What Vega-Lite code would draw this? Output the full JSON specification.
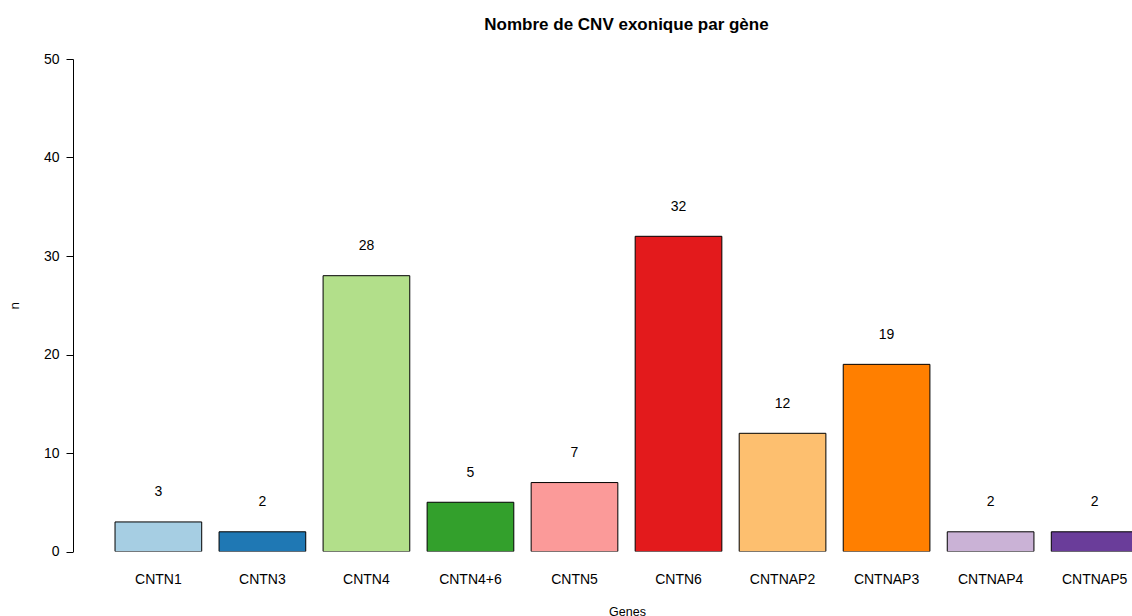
{
  "$schema": "https://vega.github.io/schema/vega-lite/v6.json",
  "autosize": {"type": "none"},
  "width": 1059,
  "height": 492.5,
  "padding": {"left": 73, "top": 59, "right": 0, "bottom": 64.5},
  "background": "white",
  "config": {
    "view": {"stroke": null},
    "font": "Liberation Sans",
    "axis": {"grid": false, "labelColor": "black", "titleColor": "black", "domainColor": "black", "tickColor": "black"}
  },
  "title": {
    "text": "Nombre de CNV exonique par gène",
    "font": "Liberation Sans",
    "fontSize": 17,
    "fontWeight": "bold",
    "color": "black",
    "anchor": "middle",
    "frame": "group",
    "dx": 24,
    "offset": 18
  },
  "data": {
    "values": [
      {"Genes": "CNTN1", "n": 3},
      {"Genes": "CNTN3", "n": 2},
      {"Genes": "CNTN4", "n": 28},
      {"Genes": "CNTN4+6", "n": 5},
      {"Genes": "CNTN5", "n": 7},
      {"Genes": "CNTN6", "n": 32},
      {"Genes": "CNTNAP2", "n": 12},
      {"Genes": "CNTNAP3", "n": 19},
      {"Genes": "CNTNAP4", "n": 2},
      {"Genes": "CNTNAP5", "n": 2}
    ]
  },
  "encoding": {
    "x": {
      "field": "Genes",
      "type": "nominal",
      "sort": null,
      "scale": {"range": [0, 1107], "paddingInner": 0.1667, "paddingOuter": 0.404},
      "axis": {
        "labelAngle": 0,
        "domain": false,
        "ticks": false,
        "tickSize": 0,
        "labelFontSize": 14,
        "labelPadding": 21,
        "title": "Genes",
        "titleFontSize": 12.5,
        "titleFontWeight": "normal",
        "titlePadding": 19,
        "titleX": 554
      }
    },
    "y": {
      "field": "n",
      "type": "quantitative",
      "scale": {"domain": [0, 50], "nice": false, "zero": true},
      "axis": {
        "values": [0, 10, 20, 30, 40, 50],
        "tickSize": 7,
        "labelPadding": 7,
        "labelFontSize": 14,
        "title": "n",
        "titleFontSize": 13.5,
        "titleFontWeight": "normal",
        "titlePadding": 22
      }
    }
  },
  "layer": [
    {
      "mark": {"type": "bar", "stroke": "black", "strokeWidth": 1, "clip": true},
      "encoding": {
        "color": {
          "field": "Genes",
          "type": "nominal",
          "sort": null,
          "legend": null,
          "scale": {"range": ["#A6CEE3", "#1F78B4", "#B2DF8A", "#33A02C", "#FB9A99", "#E31A1C", "#FDBF6F", "#FF7F00", "#CAB2D6", "#6A3D9A"]}
        }
      }
    },
    {
      "mark": {"type": "text", "baseline": "middle", "align": "center", "dy": -29.5, "fontSize": 14, "color": "black"},
      "encoding": {"text": {"field": "n", "type": "quantitative"}}
    }
  ]
}
